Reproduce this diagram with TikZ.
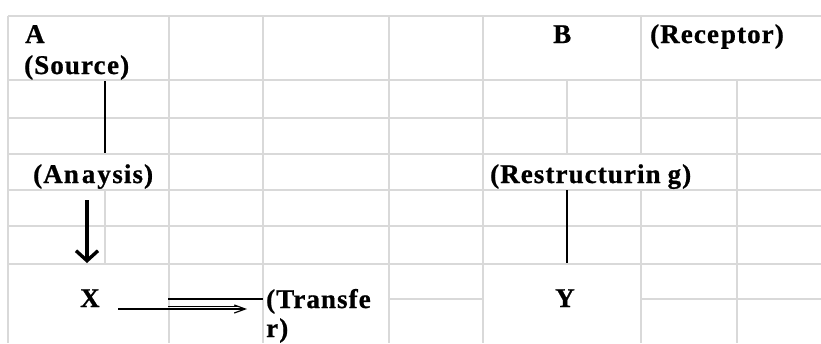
\documentclass[tikz,border=0pt]{standalone}
\usepackage{fontspec}
\setmainfont{Liberation Serif}[LetterSpace=4,BoldFont={Liberation Serif Bold},BoldFeatures={FakeBold=0.8}]
\usetikzlibrary{arrows.meta}
\definecolor{gridgray}{RGB}{217,217,217}
\begin{document}
\begin{tikzpicture}[x=1pt,y=-1pt,
  gridline/.style={draw=gridgray,line width=1.3pt},
  conn/.style={draw=black,line width=1.3pt},
  thickarrow/.style={draw=black,line width=3.4pt,-{Straight Barb[length=10pt,width=22pt,line width=3.4pt]}},
  thinarrow/.style={draw=black,line width=1.2pt,-{Straight Barb[length=11pt,width=8pt]}},
  lab/.style={inner sep=0pt,anchor=base west,font=\fontsize{27}{32}\selectfont\bfseries}]
\useasboundingbox (0,0) rectangle (821,343);
% horizontal grid lines
\foreach \yy in {16,80,118,154,190,226,264}
  \draw[gridline] (8,\yy) -- (821,\yy);
\draw[gridline] (389,299) -- (483,299);
\draw[gridline] (641,299) -- (821,299);
% vertical grid lines
\foreach \xx in {8,169,263,389,483}
  \draw[gridline] (\xx,16) -- (\xx,343);
\draw[gridline] (567,80) -- (567,154);
\draw[gridline] (641,16) -- (641,154);
\draw[gridline] (641,190) -- (641,343);
\draw[gridline] (737,80) -- (737,343);
\draw[gridline] (105,190) -- (105,264);
% labels
\node[lab] (a) at (25,43) {A};
\node[lab] (src) at (24,74) {(Sourc\hspace{1.5pt}e)};
\node[lab] (ana) at (33,183) {(An\hspace{3pt}a\hspace{2pt}y\hspace{1.5pt}sis)};
\node[lab] (x) at (80,307) {X};
\node[lab] (tr1) at (266,308) {(Transfe};
\node[lab] (tr2) at (266,337) {r)};
\node[lab] (b) at (553,43) {B};
\node[lab] (rec) at (650,43) {(Rece\hspace{2pt}ptor)};
\node[lab] (res) at (490,183) {(Restructurin\hspace{7pt}g)};
\node[lab] (y) at (555,307) {Y};
% connector end points
\coordinate (s1) at (105,81);
\coordinate (s2) at (105,153);
\coordinate (d1) at (87,200);
\coordinate (d2) at (87,263);
\coordinate (r1) at (567,190);
\coordinate (r2) at (567,263);
\coordinate (h1) at (118,309);
\coordinate (h2) at (247,309);
\coordinate (h3) at (168,306.5);
\coordinate (h4) at (238,306.5);
\coordinate (u1) at (168,299);
\coordinate (u2) at (263,299);
% connectors
\draw[conn] (s1) -- (s2);
\draw[thickarrow] (d1) -- (d2);
\draw[conn] (r1) -- (r2);
\draw[thinarrow] (h1) -- (h2);
\draw[draw=black,line width=1pt] (h3) -- (h4);
\draw[conn] (u1) -- (u2);
\end{tikzpicture}
\end{document}
